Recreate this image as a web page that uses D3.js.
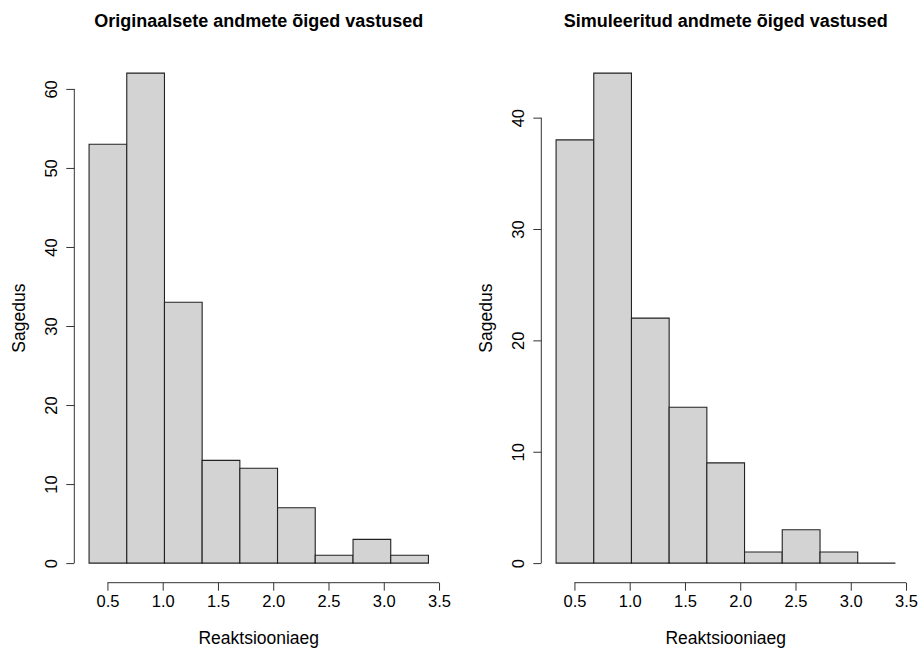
<!DOCTYPE html>
<html>
<head>
<meta charset="utf-8">
<script src="https://cdn.jsdelivr.net/npm/d3@7"></script>
<style>
  html, body { margin: 0; padding: 0; background: #fff; }
  svg { display: block; font-family: "Liberation Sans", Arial, sans-serif; }
</style>
</head>
<body>
<svg id="chart" width="918" height="652"></svg>
<script>
// Histogram bin edges (shared by both panels)
const breaks = [0.334, 0.675, 1.016, 1.357, 1.698, 2.039, 2.380, 2.722, 3.063, 3.404];

// Counts per bin
const originalCounts = [53, 62, 33, 13, 12, 7, 1, 3, 1];
const simulatedCounts = [38, 44, 22, 14, 9, 1, 3, 1, 0];

// Axis tick values
const xTicks = [0.5, 1.0, 1.5, 2.0, 2.5, 3.0, 3.5];
const originalYTicks = [0, 10, 20, 30, 40, 50, 60];
const simulatedYTicks = [0, 10, 20, 30, 40];

// Panel text
const panelTitles = ["Originaalsete andmete õiged vastused", "Simuleeritud andmete õiged vastused"];
const xLabel = "Reaktsiooniaeg";
const yLabel = "Sagedus";

const svg = d3.select("#chart");

const panels = [
  { title: panelTitles[0], counts: originalCounts, yTicks: originalYTicks, left: 75.5, right: 442 },
  { title: panelTitles[1], counts: simulatedCounts, yTicks: simulatedYTicks, left: 542.5, right: 909 }
];
const plotTop = 53.5, plotBottom = 582.7;
const axisColor = "#333";
const fontFamily = "Liberation Sans, Arial, sans-serif";

panels.forEach(p => {
  const g = svg.append("g");

  // 4% expansion of the data ranges, as in base R plots
  const x0 = breaks[0], x1 = breaks[breaks.length - 1];
  const xPad = (x1 - x0) * 0.04;
  const x = d3.scaleLinear().domain([x0 - xPad, x1 + xPad]).range([p.left, p.right]);

  const yMax = d3.max(p.counts);
  const yPad = yMax * 0.04;
  const y = d3.scaleLinear().domain([-yPad, yMax + yPad]).range([plotBottom, plotTop]);

  // Bars as closed paths so empty bins still show their outline on the baseline
  const bins = p.counts.map((c, i) => ({ x0: breaks[i], x1: breaks[i + 1], count: c }));
  g.selectAll("path.bar").data(bins).join("path")
    .attr("class", "bar")
    .attr("d", d => `M${x(d.x0)},${y(0)}V${y(d.count)}H${x(d.x1)}V${y(0)}Z`)
    .attr("fill", "#d3d3d3")
    .attr("stroke", "#222")
    .attr("stroke-width", 1.1);

  // X axis
  const xAxis = d3.axisBottom(x).tickValues(xTicks).tickFormat(d3.format(".1f")).tickSizeOuter(0).tickSizeInner(8).tickPadding(5);
  const xg = g.append("g").attr("transform", `translate(0,${plotBottom})`).call(xAxis);
  xg.select(".domain").attr("d", `M${x(xTicks[0])},0H${x(xTicks[xTicks.length - 1])}`).attr("stroke", axisColor);
  xg.selectAll(".tick line").attr("stroke", axisColor);
  xg.selectAll(".tick text").attr("font-size", 16.5).attr("fill", "#000").attr("font-family", fontFamily);

  // Y axis with labels parallel to the axis
  const yAxis = d3.axisLeft(y).tickValues(p.yTicks).tickSizeOuter(0).tickSizeInner(8).tickFormat(d3.format("d"));
  const yg = g.append("g").attr("transform", `translate(${p.left - 1.2},0)`).call(yAxis);
  yg.select(".domain").attr("d", `M0,${y(p.yTicks[0])}V${y(p.yTicks[p.yTicks.length - 1])}`).attr("stroke", axisColor);
  yg.selectAll(".tick line").attr("stroke", axisColor);
  yg.selectAll(".tick text")
    .attr("x", null).attr("dy", null)
    .attr("text-anchor", "middle")
    .attr("dominant-baseline", "central")
    .attr("transform", "translate(-23.3,0) rotate(-90)")
    .attr("font-size", 16.5).attr("fill", "#000")
    .attr("font-family", fontFamily);

  const cx = (p.left + p.right) / 2;

  // Title
  g.append("text")
    .attr("x", cx).attr("y", 27)
    .attr("text-anchor", "middle")
    .attr("font-size", 18).attr("font-weight", "bold").attr("fill", "#000")
    .text(p.title);

  // Axis titles
  g.append("text")
    .attr("x", cx).attr("y", 644)
    .attr("text-anchor", "middle")
    .attr("font-size", 17.5).attr("fill", "#000")
    .text(xLabel);

  g.append("text")
    .attr("transform", `translate(${p.left - 1.2 - 49.5},${(plotTop + plotBottom) / 2}) rotate(-90)`)
    .attr("text-anchor", "middle")
    .attr("font-size", 17.5).attr("fill", "#000")
    .text(yLabel);
});
</script>
</body>
</html>
